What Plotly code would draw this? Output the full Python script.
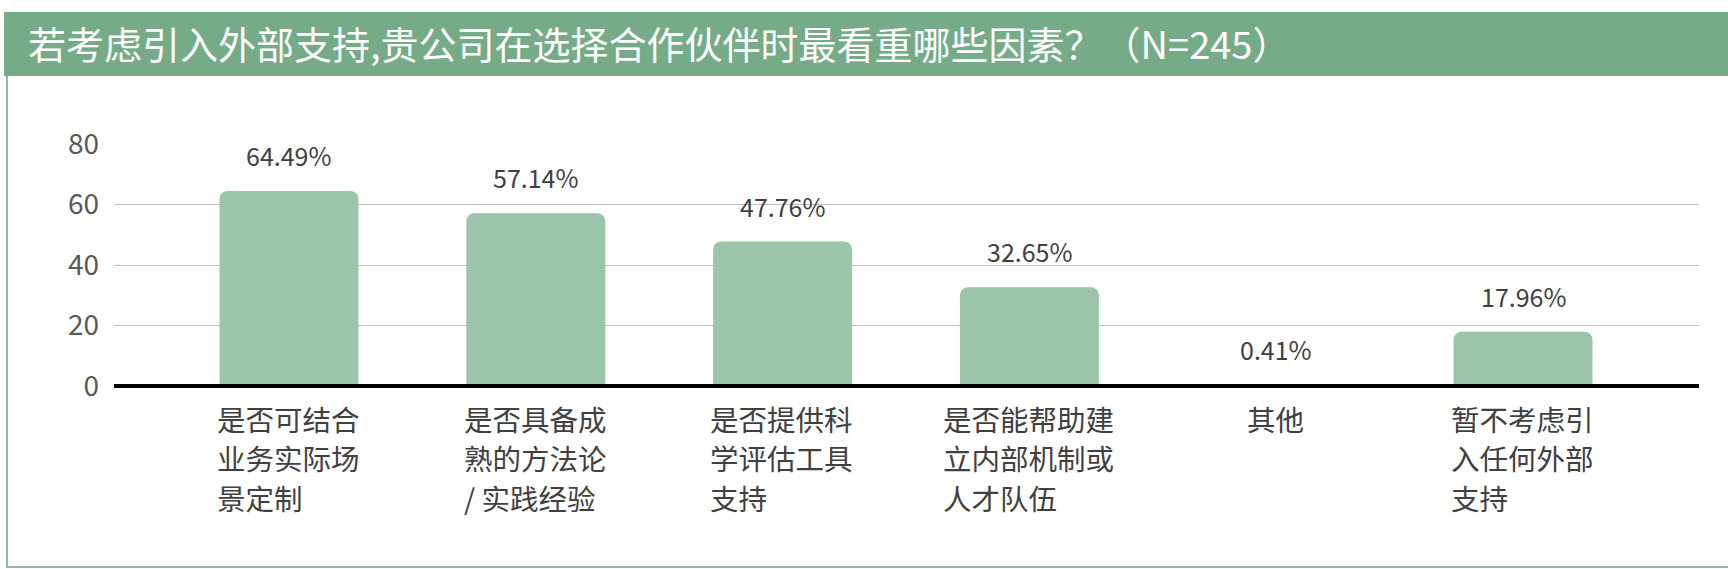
import plotly.graph_objects as go

# ---- data ----
title_text = "若考虑引入外部支持,贵公司在选择合作伙伴时最看重哪些因素？（N=245）"
categories = ["是否可结合业务实际场景定制", "是否具备成熟的方法论/实践经验", "是否提供科学评估工具支持",
              "是否能帮助建立内部机制或人才队伍", "其他", "暂不考虑引入任何外部支持"]
tick_labels = [["是否可结合", "业务实际场", "景定制"],
               ["是否具备成", "熟的方法论", "/ 实践经验"],
               ["是否提供科", "学评估工具", "支持"],
               ["是否能帮助建", "立内部机制或", "人才队伍"],
               ["其他"],
               ["暂不考虑引", "入任何外部", "支持"]]
values = [64.49, 57.14, 47.76, 32.65, 0.41, 17.96]
y_ticks = [0, 20, 40, 60, 80]

# ---- layout geometry (pixels) ----
W, H = 1728, 569
ML, MR, MT, MB = 114, 29, 144, 183
PW, PH = W - ML - MR, H - MT - MB

def px_x(px):
    return (px - ML) / PW

def px_y(py):  # py measured from top of page
    return 1 - (py - MT) / PH

FONT = "Noto Sans CJK SC, Noto Sans, sans-serif"
BAR_COLOR = "#9BC4A8"
BAND_COLOR = "#75AC87"
LBL_FS = 28.5
LINE_GAP = 39.5

def text_w(s, fs):
    w = 0.0
    for ch in s:
        if ch == " ":
            w += 0.22 * fs
        elif ch == "/":
            w += 0.38 * fs
        elif ord(ch) < 128:
            w += 0.55 * fs
        else:
            w += fs
    return w

fig = go.Figure()
fig.add_trace(go.Bar(
    x=categories, y=values, width=0.563,
    marker=dict(color=BAR_COLOR, cornerradius=8, line=dict(width=0)),
    hoverinfo="skip",
))

annotations = []
for c, v in zip(categories, values):
    annotations.append(dict(
        x=c, y=v, xref="x", yref="y", text=f"{v:.2f}%", showarrow=False,
        xanchor="center", yanchor="bottom", yshift=16,
        font=dict(family=FONT, size=25, color="#404040"),
    ))
for c, lines in zip(categories, tick_labels):
    block_w = max(text_w(s, LBL_FS) for s in lines)
    for i, s in enumerate(lines):
        annotations.append(dict(
            x=c, y=0, xref="x", yref="paper", text=s, showarrow=False,
            xanchor="left", yanchor="middle", align="left",
            xshift=-block_w / 2 - 2, yshift=-(32 + i * LINE_GAP), borderpad=0,
            font=dict(family=FONT, size=LBL_FS, color="#404040"),
        ))
# title
annotations.append(dict(
    x=px_x(26), y=px_y(43), xref="paper", yref="paper", text=title_text,
    showarrow=False, xanchor="left", yanchor="middle",
    font=dict(family=FONT, size=38, color="#FFFFFF"),
))

shapes = [
    # title band
    dict(type="rect", xref="paper", yref="paper",
         x0=px_x(4), x1=px_x(W + 5), y0=px_y(76), y1=px_y(12),
         fillcolor=BAND_COLOR, line=dict(width=0), layer="below"),
    # left border
    dict(type="line", xref="paper", yref="paper",
         x0=px_x(7), x1=px_x(7), y0=px_y(76), y1=px_y(567),
         line=dict(color="#8DBE9C", width=2)),
    # bottom border
    dict(type="line", xref="paper", yref="paper",
         x0=px_x(6), x1=px_x(W + 5), y0=px_y(567), y1=px_y(567),
         line=dict(color="#8DBE9C", width=2)),
    # baseline (paper refs so it is not clipped)
    dict(type="line", xref="paper", yref="paper",
         x0=0, x1=1, y0=0, y1=0,
         line=dict(color="#000000", width=4)),
]

fig.update_layout(
    width=W, height=H,
    margin=dict(l=ML, r=MR, t=MT, b=MB, pad=0),
    paper_bgcolor="#FFFFFF", plot_bgcolor="#FFFFFF",
    showlegend=False,
    font=dict(family=FONT),
    annotations=annotations,
    shapes=shapes,
)
fig.update_xaxes(
    type="category", range=[-0.709, 5.713], showticklabels=False,
    showgrid=False, zeroline=False, showline=False, ticks="",
)
fig.update_yaxes(
    range=[0, 80], tickvals=y_ticks, ticktext=[str(t) for t in y_ticks],
    showgrid=True, gridcolor="#BFBFBF", gridwidth=1,
    zeroline=False, showline=False, ticks="",
    ticklabelstandoff=14,
    tickfont=dict(family=FONT, size=28, color="#595959"),
)

fig.write_html("out.html")
